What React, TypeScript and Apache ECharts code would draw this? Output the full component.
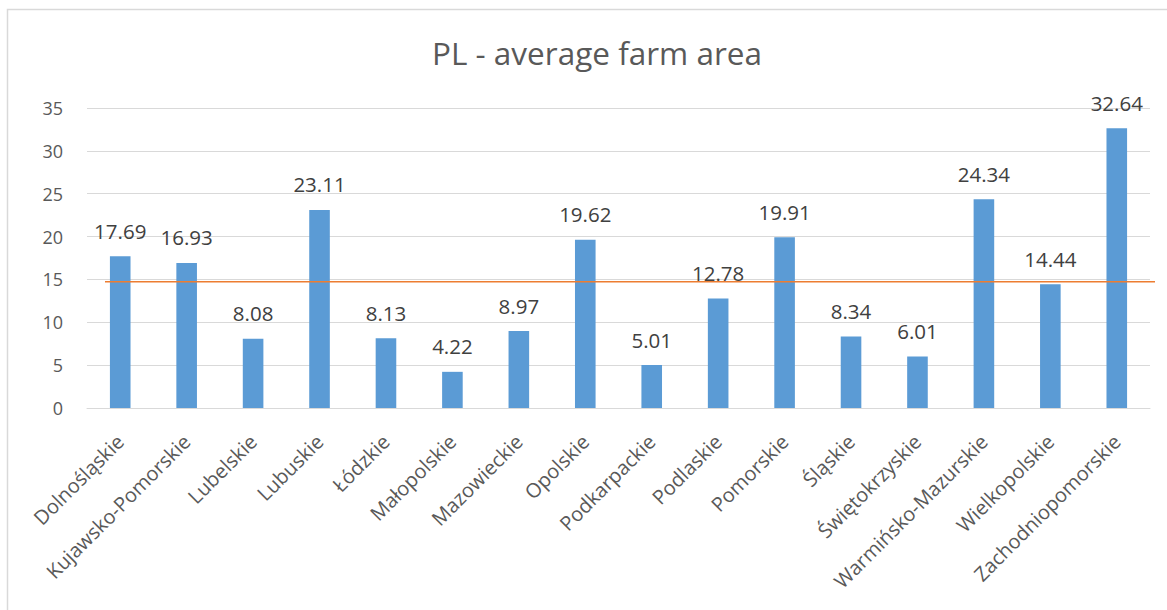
import React, { useEffect, useRef } from "react";
import * as echarts from "echarts";

const title = "PL - average farm area";
const categories = [
  "Dolnośląskie",
  "Kujawsko-Pomorskie",
  "Lubelskie",
  "Lubuskie",
  "Łódzkie",
  "Małopolskie",
  "Mazowieckie",
  "Opolskie",
  "Podkarpackie",
  "Podlaskie",
  "Pomorskie",
  "Śląskie",
  "Świętokrzyskie",
  "Warmińsko-Mazurskie",
  "Wielkopolskie",
  "Zachodniopomorskie",
];
const values = [17.69, 16.93, 8.08, 23.11, 8.13, 4.22, 8.97, 19.62, 5.01, 12.78, 19.91, 8.34, 6.01, 24.34, 14.44, 32.64];
const averageValue = 14.73;
const yTicks = { min: 0, max: 35, interval: 5 };

const FONT = "'Open Sans', 'Noto Sans', sans-serif";

export default function App() {
  const ref = useRef<HTMLDivElement>(null);
  useEffect(() => {
    document.body.style.margin = "0";
    if (!ref.current) return;
    const chart = echarts.init(ref.current, null, { renderer: "svg" });
    const gridLeft = 87;
    const gridRight = 17;
    chart.setOption({
      animation: false,
      backgroundColor: "#ffffff",
      title: {
        text: title,
        left: 592,
        top: 31,
        textAlign: "center",
        textStyle: { fontFamily: FONT, fontSize: 31.5, fontWeight: "normal", color: "#595959" },
      },
      grid: { left: gridLeft, right: gridRight, top: 108, bottom: 202, containLabel: false },
      xAxis: {
        type: "category",
        data: categories,
        axisLine: { show: true, lineStyle: { color: "#D9D9D9", width: 1 } },
        axisTick: { show: false },
        axisLabel: {
          interval: 0,
          rotate: 45,
          margin: 30,
          fontFamily: FONT,
          fontSize: 20,
          color: "#595959",
        },
      },
      yAxis: {
        type: "value",
        min: yTicks.min,
        max: yTicks.max,
        interval: yTicks.interval,
        axisLine: { show: false },
        axisTick: { show: false },
        splitLine: { lineStyle: { color: "#D9D9D9", width: 1 } },
        axisLabel: { margin: 24, fontFamily: FONT, fontSize: 18, color: "#595959" },
      },
      series: [
        {
          type: "bar",
          data: values,
          barWidth: "31%",
          itemStyle: { color: "#5B9BD5" },
          label: {
            show: true,
            position: "top",
            distance: 15,
            fontFamily: FONT,
            fontSize: 20.5,
            color: "#404040",
            formatter: (p: any) => p.value.toFixed(2),
          },
        },
      ],
    });
    const y = chart.convertToPixel({ yAxisIndex: 0 }, averageValue) as number;
    const w = 1167;
    chart.setOption({
      graphic: [
        {
          type: "rect",
          shape: { x: 7.5, y: 9.5, width: w + 20, height: 700 },
          style: { fill: "none", stroke: "#D9D9D9", lineWidth: 1.5 },
          silent: true,
          z: 100,
        },
        {
          type: "line",
          shape: { x1: gridLeft + 18, y1: y, x2: w - gridRight + 5, y2: y },
          style: { stroke: "#ED7D31", lineWidth: 1.5 },
          silent: true,
          z: 100,
        },
      ],
    });
    return () => chart.dispose();
  }, []);
  return <div ref={ref} style={{ width: 1167, height: 610 }} />;
}
